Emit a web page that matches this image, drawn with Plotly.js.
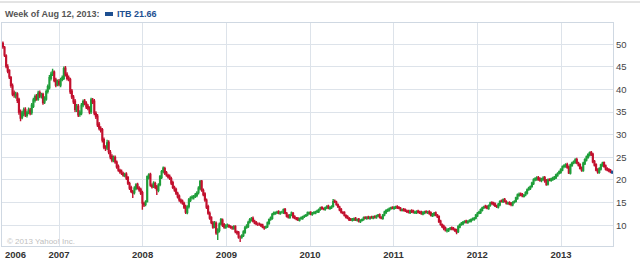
<!DOCTYPE html>
<html><head><meta charset="utf-8">
<script src="https://cdn.plot.ly/plotly-3.0.1.min.js"></script>
<style>html,body{margin:0;padding:0;background:#fff}#chart{width:640px;height:260px}</style>
</head><body><div id="chart"></div>
<script>
// Weekly candles for ITB, week of 2006-05-01 through week of 2013-08-12
var firstWeek = '2006-05-01';
var ticker = 'ITB';
var headerDate = 'Week of Aug 12, 2013:';
var yearTickVals = ['2007-01-01','2008-01-01','2009-01-01','2010-01-01','2011-01-01','2012-01-01','2013-01-01'];
var yearTickText = ['2007','2008','2009','2010','2011','2012','2013'];
var firstYearLabel = '2006';
var priceTicks = [10,15,20,25,30,35,40,45,50];

var opens = [
50.2,49.3,47.4,45.0,44.2,42.6,40.8,39.2,38.6,39.0,
37.8,35.1,33.9,34.6,35.6,34.3,34.9,35.4,34.9,36.3,
37.6,38.5,37.9,39.3,38.5,38.9,37.2,37.9,39.6,40.4,
42.5,43.5,43.8,42.1,41.1,41.8,41.0,42.2,42.5,44.7,
43.3,42.6,42.2,39.6,38.3,37.4,35.5,36.3,34.5,34.8,
36.6,37.4,36.9,36.3,35.8,35.1,37.6,37.4,34.7,34.1,
32.3,31.4,31.1,28.9,27.2,27.1,28.3,26.1,25.2,24.3,
25.0,23.9,23.0,22.1,21.9,21.4,21.0,21.3,20.5,19.2,
18.3,17.4,17.2,18.1,19.0,18.2,17.9,17.2,14.8,14.6,
15.2,20.5,21.2,18.8,18.6,19.2,18.5,17.7,19.0,20.6,
21.9,22.5,21.6,21.0,20.8,20.3,19.4,18.3,17.9,17.0,
16.4,15.5,15.3,14.8,14.1,12.8,14.1,15.5,16.1,16.1,
16.4,16.6,17.2,18.1,19.7,17.7,16.9,15.5,14.1,12.6,
11.7,10.5,9.7,10.4,8.4,8.8,10.3,11.1,10.1,9.5,
9.9,9.9,9.7,9.5,9.3,9.7,8.5,8.4,7.3,7.4,
7.7,8.4,9.5,9.7,10.7,11.1,11.5,10.8,10.6,10.2,
10.3,10.1,10.0,9.5,9.5,9.7,10.4,11.3,11.5,12.5,
12.6,12.8,13.0,12.6,12.9,12.8,13.5,12.6,12.1,11.7,
12.3,12.6,11.9,11.5,11.5,11.1,11.5,11.5,11.9,12.1,
12.3,12.6,12.8,12.4,12.7,12.7,13.0,13.0,13.5,13.9,
13.6,13.5,13.9,14.2,13.7,13.9,14.2,15.3,15.1,14.5,
14.0,13.5,12.8,12.8,12.1,11.9,11.5,11.3,11.1,11.2,
11.5,11.1,11.3,10.8,11.1,11.3,11.7,11.5,11.8,11.5,
11.8,11.6,11.9,11.7,12.1,12.3,11.7,11.5,12.3,12.8,
13.2,13.3,13.7,13.9,13.7,13.9,14.1,13.9,13.7,13.3,
13.5,13.4,13.1,13.1,12.8,13.2,13.1,12.8,12.8,13.1,
12.9,12.9,12.5,12.7,13.0,12.8,13.0,12.7,12.1,12.3,
12.7,12.2,11.9,10.9,10.1,9.8,9.4,8.8,8.8,9.2,
9.4,9.3,9.0,8.9,8.6,9.6,10.2,10.3,10.7,10.9,
10.6,10.9,10.9,11.3,11.3,11.6,12.1,12.7,12.8,13.3,
13.9,14.2,14.1,13.7,14.4,15.0,14.9,14.7,14.2,14.0,
14.5,15.4,15.2,15.7,15.2,14.8,15.0,14.8,14.5,15.1,
15.3,15.9,16.6,16.9,16.8,16.4,16.7,17.1,17.9,18.1,
18.6,19.2,20.1,20.1,20.5,20.2,19.9,20.1,20.5,19.9,
19.1,20.1,19.9,20.1,20.3,20.5,21.0,21.5,21.7,22.2,
23.0,23.0,23.4,22.9,21.5,23.2,23.8,23.9,24.5,23.7,
23.4,22.7,22.1,23.6,24.4,25.0,25.5,26.1,25.7,24.1,
23.4,22.3,21.7,22.4,23.2,23.8,23.1,22.5,22.3,22.1,
21.9];

var highs = [
50.6,49.6,47.8,45.6,44.5,43.0,41.3,39.8,39.5,39.4,
38.2,35.6,35.3,36.0,36.1,35.3,36.0,35.9,37.0,38.2,
38.9,39.0,39.7,39.8,39.3,39.3,38.5,40.0,41.1,43.2,
43.9,44.6,44.2,42.6,42.2,42.3,42.6,43.1,45.1,45.2,
43.8,43.1,42.6,40.1,38.8,37.9,36.8,36.8,35.4,37.0,
37.8,37.9,37.4,36.8,36.3,38.2,38.1,37.9,35.2,34.6,
32.8,31.9,31.5,29.4,27.7,28.9,28.8,26.6,25.7,25.4,
25.4,24.3,23.4,22.5,22.3,21.8,21.6,21.7,20.9,19.6,
18.7,17.8,18.6,19.3,19.4,18.6,18.3,17.6,15.2,15.5,
21.0,21.5,21.6,19.2,19.7,19.6,18.9,19.3,21.1,22.2,
23.0,22.9,22.0,21.4,21.2,20.7,19.8,18.7,18.3,17.4,
16.8,15.9,15.7,15.2,14.5,14.4,16.0,16.4,16.6,16.7,
17.1,17.5,18.6,20.0,20.0,18.1,17.3,15.9,14.5,13.0,
12.0,10.9,10.9,10.8,9.3,10.6,11.6,11.5,10.5,10.2,
10.4,10.2,10.0,9.8,10.0,10.0,8.8,8.7,7.7,8.0,
8.9,9.8,10.2,11.0,11.6,11.8,11.9,11.2,10.9,10.6,
10.6,10.4,10.3,9.8,9.9,10.8,11.5,11.9,12.7,13.0,
13.0,13.2,13.3,13.1,13.2,13.7,13.8,12.9,12.4,12.5,
13.0,12.9,12.2,11.8,11.8,11.7,11.9,12.1,12.3,12.5,
13.0,13.0,13.1,12.9,13.1,13.2,13.4,13.7,14.1,14.2,
13.9,14.1,14.4,14.5,14.2,14.4,15.8,15.7,15.4,14.8,
14.3,13.8,13.1,13.1,12.4,12.2,11.8,11.6,11.6,11.7,
11.8,11.5,11.6,11.3,11.5,11.9,12.0,12.0,12.1,12.0,
12.1,12.1,12.2,12.3,12.5,12.6,12.0,12.5,13.2,13.5,
13.7,13.9,14.1,14.2,14.2,14.3,14.4,14.2,14.0,13.7,
13.8,13.7,13.4,13.4,13.4,13.5,13.4,13.2,13.3,13.4,
13.2,13.2,13.1,13.2,13.3,13.2,13.3,13.0,12.7,12.9,
13.0,12.5,12.2,11.2,10.4,10.1,9.7,9.3,9.4,9.6,
9.7,9.6,9.3,9.2,10.0,10.4,10.7,10.9,11.1,11.2,
11.1,11.3,11.5,11.7,11.8,12.5,12.9,13.2,13.7,14.1,
14.3,14.5,14.4,14.6,15.2,15.3,15.2,15.0,14.5,14.9,
15.5,15.7,15.9,16.0,15.5,15.2,15.3,15.1,15.3,15.5,
16.3,17.0,17.2,17.2,17.1,16.9,17.5,18.1,18.5,18.8,
19.6,20.4,20.6,20.8,20.9,20.6,20.5,20.8,20.9,20.2,
20.3,20.4,20.5,20.7,20.9,21.4,21.7,22.1,22.6,23.2,
23.5,23.7,23.8,23.2,23.6,24.0,24.3,24.8,24.9,24.0,
23.7,23.0,24.0,24.8,25.4,25.9,26.3,26.4,26.0,24.4,
23.7,22.6,22.8,23.6,24.0,24.1,23.4,22.8,22.6,22.4,
22.1];

var lows = [
49.0,47.2,44.7,43.6,42.3,40.4,38.5,38.2,38.0,37.0,
34.4,33.0,33.4,34.1,33.9,33.8,34.5,34.3,34.4,35.9,
37.1,37.5,37.5,38.1,38.0,36.6,36.8,37.5,39.1,40.0,
42.0,43.0,41.6,40.5,40.7,40.7,40.5,41.8,42.1,42.9,
42.0,41.8,39.0,37.9,36.8,35.0,35.0,33.9,34.0,34.3,
36.1,36.5,35.7,35.4,34.5,34.6,36.8,34.3,33.5,31.7,
31.0,30.5,28.3,26.8,26.4,26.6,25.7,24.6,23.9,23.9,
23.6,22.5,21.8,21.4,21.1,20.7,20.6,20.0,18.9,17.8,
17.1,16.0,16.8,17.7,17.9,17.4,16.7,13.4,14.0,14.2,
15.0,20.1,18.5,18.1,18.2,18.0,16.7,17.3,18.6,20.2,
21.5,21.1,20.7,20.3,20.0,18.9,18.0,17.4,16.7,15.9,
15.2,14.8,14.5,13.6,12.5,12.4,13.7,15.1,15.7,15.7,
16.0,16.2,16.8,17.7,17.4,16.4,15.2,13.6,12.3,11.2,
10.2,9.2,9.3,7.9,6.7,8.4,10.0,9.6,9.2,9.2,
9.5,9.4,9.2,9.0,9.0,8.2,7.9,7.0,6.3,7.0,
7.4,8.1,9.2,9.4,10.4,10.8,10.6,10.2,10.0,9.8,
9.9,9.6,9.3,9.0,9.2,9.4,10.1,11.0,11.2,12.2,
12.3,12.5,12.4,12.3,12.6,12.5,12.4,11.7,11.5,11.4,
12.0,11.5,11.3,11.1,10.9,10.8,11.2,11.2,11.6,11.8,
12.0,12.3,12.2,12.1,12.4,12.4,12.7,12.7,13.2,13.4,
13.3,13.2,13.6,13.5,13.4,13.6,13.9,14.9,14.3,13.8,
13.1,12.6,12.4,11.9,11.5,11.3,10.9,10.9,10.8,10.9,
10.9,10.8,10.6,10.5,10.8,11.0,11.3,11.2,11.3,11.2,
11.4,11.3,11.5,11.4,11.8,11.5,11.3,11.2,12.0,12.5,
12.9,13.0,13.4,13.5,13.4,13.6,13.6,13.5,13.1,13.0,
13.0,12.9,12.7,12.6,12.5,12.7,12.6,12.5,12.5,12.6,
12.5,12.3,12.2,12.4,12.6,12.5,12.3,11.9,11.8,12.0,
12.0,11.6,10.5,9.9,9.4,8.9,8.6,8.4,8.5,8.9,
8.9,8.8,8.5,8.0,8.3,9.3,9.9,10.0,10.4,10.4,
10.3,10.6,10.6,11.0,11.0,11.3,11.8,12.4,12.5,13.0,
13.6,13.7,13.5,13.4,14.1,14.5,14.3,14.0,13.8,13.7,
14.2,15.0,14.9,15.0,14.6,14.5,14.4,14.2,14.2,14.8,
15.0,15.6,16.3,16.4,16.2,16.1,16.4,16.8,17.6,17.8,
18.3,18.9,19.7,19.8,19.8,19.6,19.5,19.8,19.4,18.7,
18.8,19.7,19.6,19.8,20.0,20.2,20.7,21.2,21.4,21.9,
22.6,22.7,22.5,21.3,21.2,22.9,23.5,23.6,23.5,23.0,
22.3,21.8,21.8,23.3,24.1,24.7,25.2,25.3,23.7,23.0,
21.9,21.4,21.4,22.1,22.9,22.7,22.1,21.9,21.7,21.5,
21.3];

var closes = [
49.5,47.6,45.2,44.1,42.8,40.9,39.0,38.8,38.9,37.6,
35.0,33.7,34.8,35.5,34.4,34.8,35.5,34.8,36.5,37.7,
38.4,38.0,39.2,38.6,38.8,37.1,38.0,39.5,40.6,42.6,
43.4,44.0,42.0,41.0,41.7,41.2,42.1,42.6,44.6,43.4,
42.5,42.3,39.5,38.4,37.3,35.6,36.2,34.4,34.9,36.5,
37.3,37.0,36.2,35.9,35.0,37.7,37.3,34.8,34.0,32.2,
31.5,31.0,28.8,27.3,27.0,28.2,26.2,25.1,24.4,24.9,
24.0,22.9,22.2,21.8,21.5,21.1,21.2,20.4,19.3,18.2,
17.5,17.1,18.2,18.9,18.3,17.8,17.1,14.9,14.5,15.1,
20.7,21.1,18.9,18.5,19.3,18.4,17.8,18.9,20.7,21.8,
22.6,21.5,21.1,20.7,20.4,19.3,18.4,17.8,17.1,16.3,
15.6,15.2,14.9,14.0,12.9,14.0,15.6,16.0,16.2,16.3,
16.7,17.1,18.2,19.6,17.8,16.8,15.6,14.0,12.7,11.6,
10.6,9.6,10.5,8.3,8.9,10.2,11.2,10.0,9.6,9.8,
10.0,9.8,9.6,9.4,9.6,8.6,8.3,7.4,7.3,7.6,
8.5,9.4,9.8,10.6,11.2,11.4,10.9,10.5,10.3,10.2,
10.2,9.9,9.6,9.4,9.6,10.5,11.2,11.6,12.4,12.7,
12.7,12.9,12.7,12.8,12.9,13.4,12.7,12.0,11.8,12.2,
12.7,11.8,11.6,11.4,11.2,11.4,11.6,11.8,12.0,12.2,
12.7,12.7,12.5,12.6,12.8,12.9,13.1,13.4,13.8,13.7,
13.6,13.8,14.1,13.8,13.9,14.1,15.2,15.2,14.6,14.1,
13.4,12.9,12.7,12.2,11.8,11.6,11.2,11.2,11.3,11.4,
11.2,11.2,10.9,11.0,11.2,11.6,11.6,11.7,11.6,11.7,
11.7,11.8,11.8,12.0,12.2,11.8,11.6,12.2,12.9,13.2,
13.4,13.6,13.8,13.8,13.9,14.0,13.9,13.8,13.4,13.4,
13.3,13.2,13.0,12.9,13.1,13.0,12.9,12.9,13.0,12.9,
12.8,12.6,12.8,12.9,12.9,12.9,12.6,12.2,12.4,12.6,
12.3,11.9,10.8,10.2,9.7,9.3,9.0,8.9,9.1,9.3,
9.2,9.1,8.8,8.5,9.7,10.1,10.4,10.6,10.8,10.7,
10.8,11.0,11.2,11.4,11.5,12.2,12.6,12.9,13.4,13.8,
14.0,14.0,13.8,14.3,14.9,14.8,14.6,14.3,14.1,14.6,
15.2,15.3,15.6,15.3,14.9,14.9,14.7,14.6,15.0,15.2,
16.0,16.7,16.8,16.7,16.5,16.6,17.2,17.8,18.2,18.5,
19.3,20.0,20.2,20.4,20.1,20.0,20.2,20.4,19.8,19.0,
20.0,20.0,20.2,20.4,20.6,21.1,21.4,21.8,22.3,22.9,
23.1,23.3,22.8,21.6,23.3,23.7,24.0,24.4,23.8,23.3,
22.6,22.2,23.7,24.5,25.1,25.6,26.0,25.6,24.0,23.3,
22.2,21.8,22.5,23.3,23.7,23.0,22.4,22.2,22.0,21.8,
21.66];

// weekly dates (Mondays)
var dates = [];
var t0 = Date.parse(firstWeek + 'T00:00:00Z');
for (var i = 0; i < closes.length; i++) {
  dates.push(new Date(t0 + i * 7 * 86400000).toISOString().slice(0, 10));
}
var n = closes.length;

// geometry helpers (pixel -> paper)
var W = 640, H = 260, mL = 2, mR = 27, mT = 23, mB = 14;
var pw = W - mL - mR, ph = H - mT - mB;
function px(x) { return (x - mL) / pw; }
function py(y) { return (H - mB - y) / ph; }

var green = '#1f9e3a', red = '#c2102e', blue = '#1d4f91';
var traces = [{
  type: 'candlestick',
  x: dates.slice(0, n - 1), open: opens.slice(0, n - 1), high: highs.slice(0, n - 1),
  low: lows.slice(0, n - 1), close: closes.slice(0, n - 1),
  increasing: {line: {color: green, width: 1.4}, fillcolor: green},
  decreasing: {line: {color: red, width: 1.4}, fillcolor: red},
  whiskerwidth: 0, hoverinfo: 'skip', showlegend: false
}, {
  type: 'candlestick',
  x: dates.slice(n - 1), open: opens.slice(n - 1), high: highs.slice(n - 1),
  low: lows.slice(n - 1), close: closes.slice(n - 1),
  increasing: {line: {color: blue, width: 1.4}, fillcolor: blue},
  decreasing: {line: {color: blue, width: 1.4}, fillcolor: blue},
  whiskerwidth: 0, hoverinfo: 'skip', showlegend: false
}];

var gridC = '#dde3ea';
var sans = '"Liberation Sans", Arial, sans-serif';
var layout = {
  width: W, height: H,
  margin: {l: mL, r: mR, t: mT, b: mB, pad: 0},
  paper_bgcolor: '#ffffff', plot_bgcolor: '#ffffff',
  showlegend: false,
  font: {family: sans, size: 9, color: '#333'},
  xaxis: {
    type: 'date', range: ['2006-04-27', '2013-08-16'],
    tickmode: 'array', tickvals: yearTickVals, ticktext: yearTickText,
    showgrid: true, gridcolor: gridC, gridwidth: 1, zeroline: false,
    showline: true, linecolor: '#cfd8e2', mirror: true, ticks: '',
    tickfont: {family: sans, size: 9.5, color: '#333', weight: 'bold'},
    rangeslider: {visible: false}, fixedrange: true
  },
  yaxis: {
    side: 'right', range: [5.4, 54.7],
    tickmode: 'array', tickvals: priceTicks,
    showgrid: true, gridcolor: gridC, gridwidth: 1, zeroline: false,
    showline: true, linecolor: '#cfd8e2', mirror: true, ticks: '', ticklen: 0,
    tickfont: {family: sans, size: 9.5, color: '#444'},
    fixedrange: true
  },
  shapes: [
    {type: 'line', xref: 'paper', yref: 'paper', x0: px(0), x1: px(640), y0: py(2), y1: py(2),
     line: {color: '#c8c8c8', width: 1}},
    {type: 'rect', xref: 'paper', yref: 'paper', x0: px(105), x1: px(113), y0: py(16), y1: py(12),
     fillcolor: blue, line: {width: 0}}
  ],
  annotations: [
    {xref: 'paper', yref: 'paper', x: px(3), y: py(14), xanchor: 'left', yanchor: 'middle',
     text: '<b>' + headerDate + '</b>', showarrow: false,
     font: {family: sans, size: 9, color: '#555'}},
    {xref: 'paper', yref: 'paper', x: px(115), y: py(14), xanchor: 'left', yanchor: 'middle',
     text: '<b>' + ticker + ' ' + closes[n - 1].toFixed(2) + '</b>', showarrow: false,
     font: {family: sans, size: 9, color: blue}},
    {xref: 'paper', yref: 'paper', x: px(3), y: py(254), xanchor: 'left', yanchor: 'middle',
     text: '<b>' + firstYearLabel + '</b>', showarrow: false,
     font: {family: sans, size: 9.5, color: '#333'}},
    {xref: 'paper', yref: 'paper', x: px(5), y: py(241), xanchor: 'left', yanchor: 'middle',
     text: '\u00a9 2013 Yahoo! Inc.', showarrow: false,
     font: {family: sans, size: 8, color: '#c0c0c0'}}
  ]
};

Plotly.newPlot('chart', traces, layout, {displayModeBar: false, staticPlot: true});
</script>
</body></html>
